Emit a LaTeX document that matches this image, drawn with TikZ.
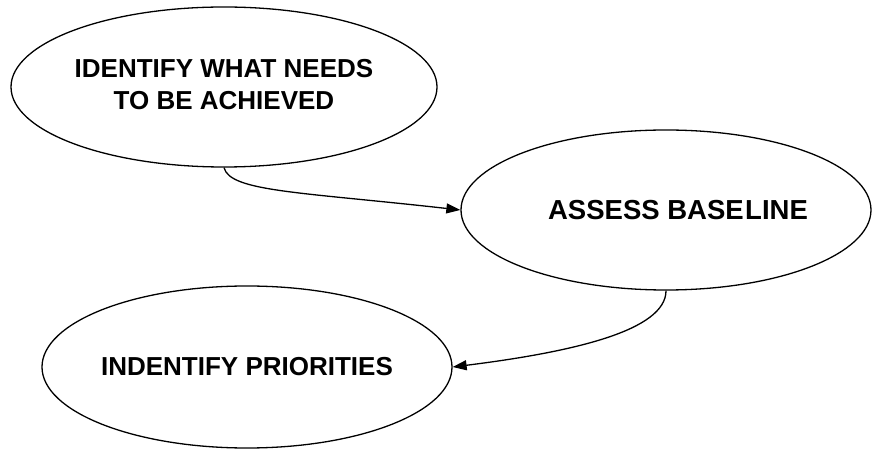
\documentclass[tikz,border=0pt]{standalone}
\usepackage{fontspec}
\setmainfont{Liberation Sans}
\usetikzlibrary{shapes.geometric,arrows.meta}
\begin{document}
\begin{tikzpicture}[x=1pt,y=1pt,
  ell/.style={draw=black, line width=1.3pt, ellipse, inner sep=0pt,
    font=\bfseries\fontsize{26pt}{32pt}\selectfont},
  conn/.style={draw=black, line width=1.3pt, -{Triangle[length=14pt,width=10pt]}}]
\useasboundingbox (0,0) rectangle (873,450);
\fill[white] (0,0) rectangle (873,450);
\node[ell, minimum width=426pt, minimum height=160pt] (e1) at (224,363)
  {\makebox[0pt]{\raisebox{-3pt}{\begin{tabular}{@{}c@{}}IDENTIFY WHAT NEEDS\\TO BE ACHIEVED\end{tabular}}}};
\node[ell, minimum width=410pt, minimum height=160pt] (e2) at (666,240)
  {\makebox[0pt]{\hspace*{24pt}\raisebox{-3pt}{\fontsize{27.5pt}{32pt}\selectfont ASSESS BASE\kern1.5pt LINE}}};
\node[ell, minimum width=410pt, minimum height=162pt] (e3) at (247,83)
  {\makebox[0pt]{\raisebox{-4pt}{INDENTIFY PRIORITIES}}};
\draw[conn] (e1.south) .. controls +(6,-24) and +(-160,18) .. (e2.west);
\draw[conn] (e2.south) .. controls +(0,-40) and +(120,15) .. (e3.east);
\end{tikzpicture}
\end{document}
